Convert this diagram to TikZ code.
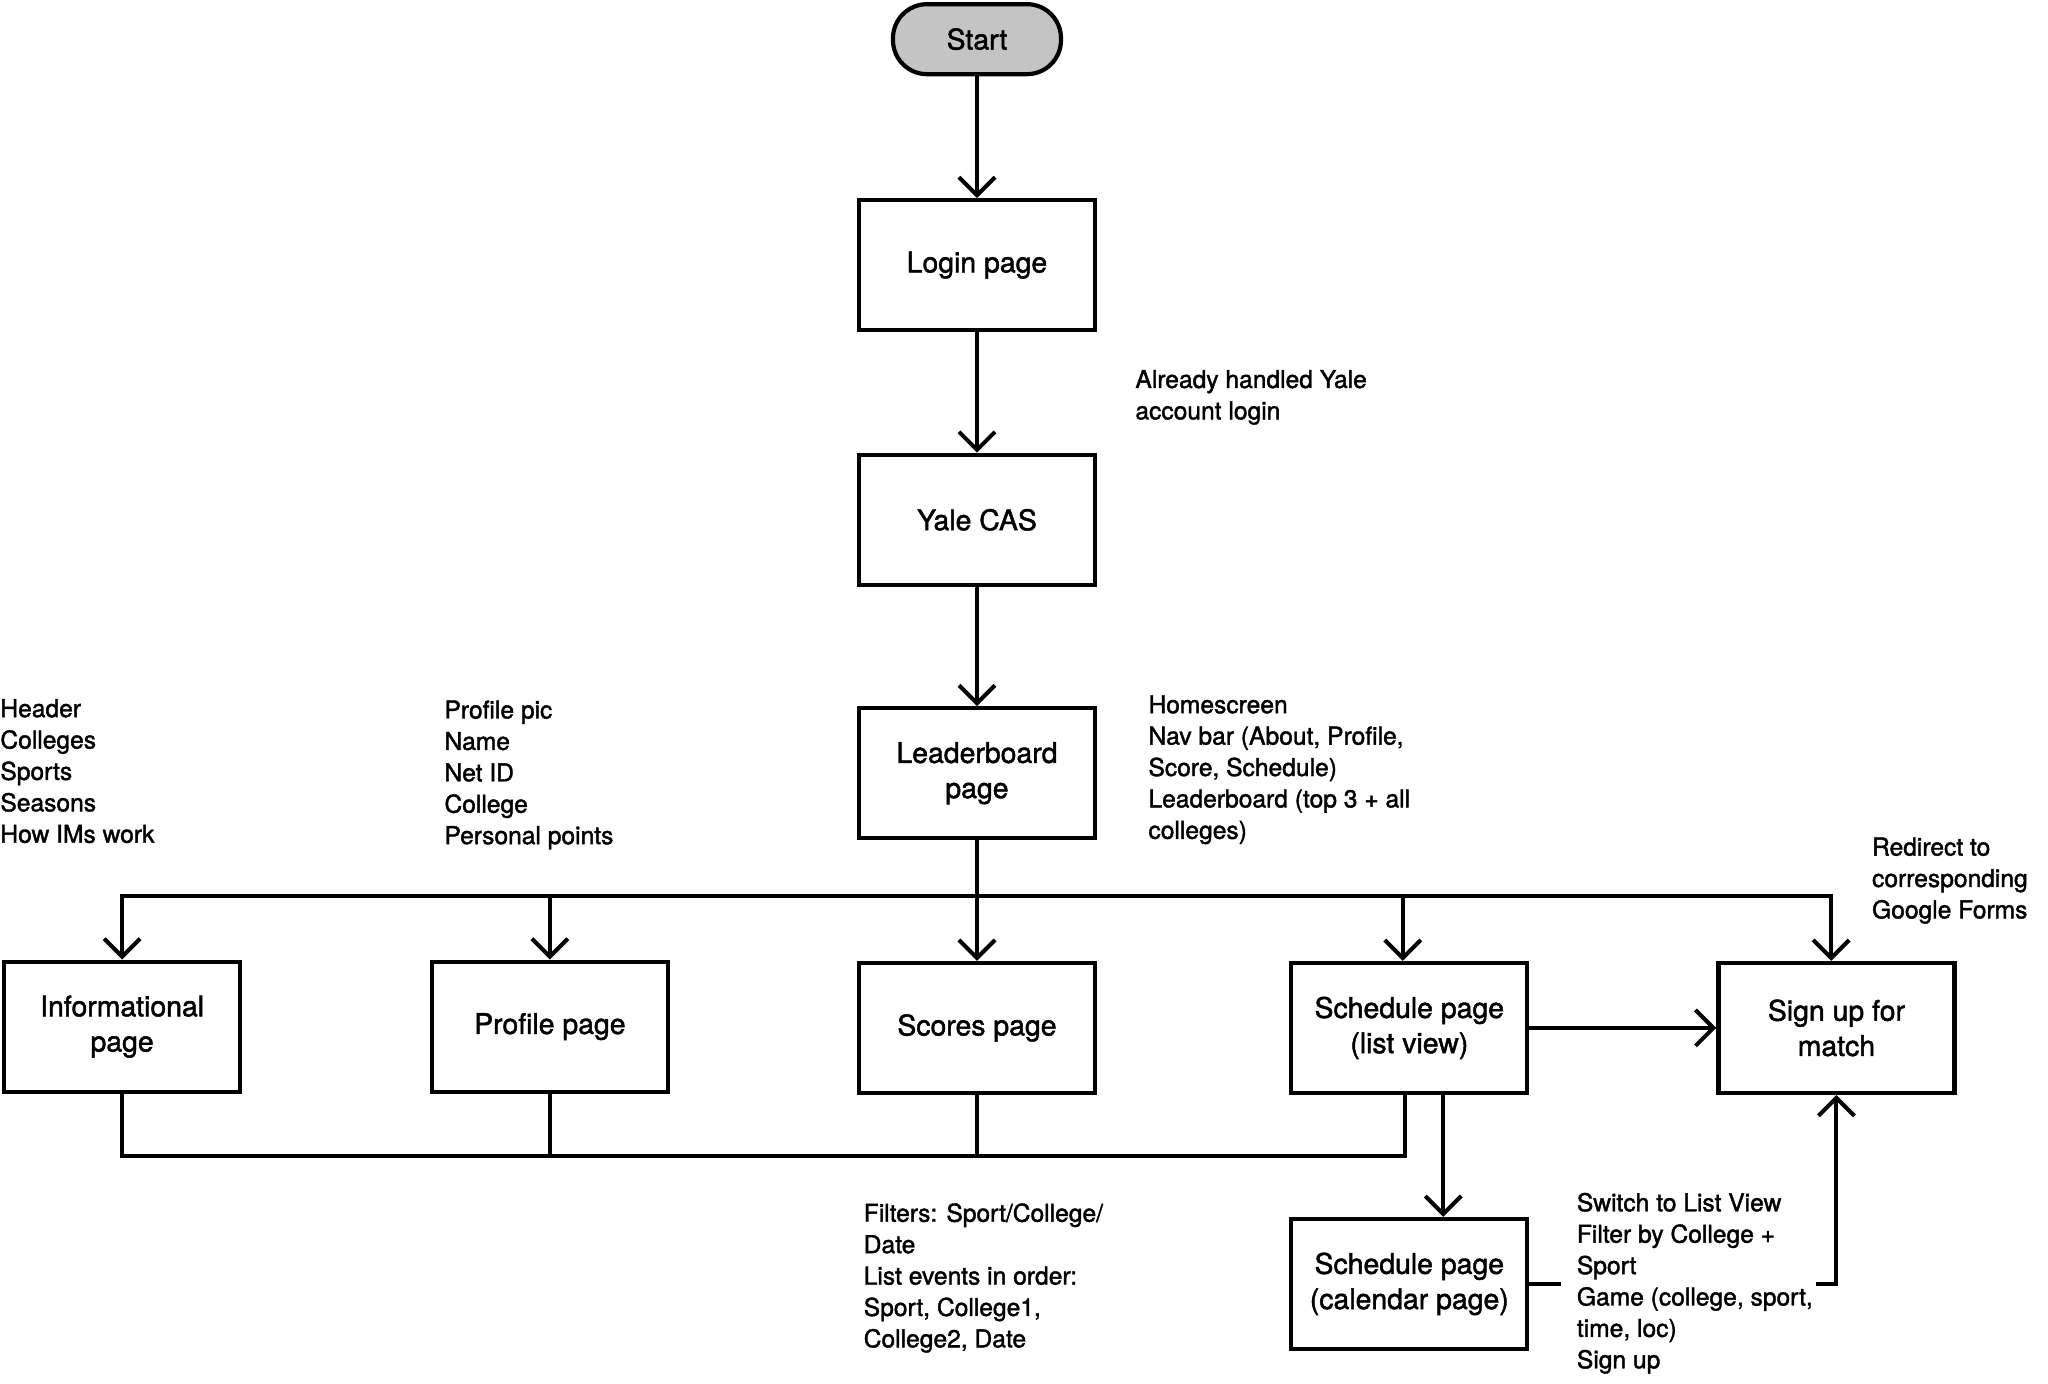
\documentclass[tikz,border=0pt]{standalone}
\usepackage{fontspec}
\setmainfont{TeX Gyre Heros}
\newfontfamily\medfont{TeX Gyre Heros}[UprightFeatures={FakeBold=1.6}]
\usetikzlibrary{arrows.meta,calc}
\definecolor{startgray}{RGB}{196,196,196}
\begin{document}
\begin{tikzpicture}[x=0.653pt,y=-0.653pt,
  box/.style={draw,line width=2.1pt,fill=white,minimum width=118pt,minimum height=65pt,align=center,font=\medfont\fontsize{14.2}{17.6}\selectfont,inner sep=2pt},
  term/.style={draw,line width=2.1pt,fill=startgray,rounded corners=17pt,minimum width=84pt,minimum height=35pt,font=\medfont\fontsize{14.2}{17.6}\selectfont},
  note/.style={anchor=north west,align=left,inner sep=0pt,font=\medfont\fontsize{12.3}{15.7}\selectfont},
  arr/.style={line width=2pt,-{Straight Barb[length=9pt,width=18pt,line width=2pt]}},
  ln/.style={line width=2pt}]
\useasboundingbox (0,0) rectangle (1568,1059);

% main column
\node[term] (start) at (748,30) {Start};
\node[box] (login) at (748,203) {Login page};
\node[box] (cas) at (748,398) {Yale CAS};
\node[box] (lead) at (748,592) {Leaderboard\\page};

% row
\node[box] (info) at (93.5,786) {Informational\\page};
\node[box] (profile) at (421,786) {Profile page};
\node[box] (scores) at (748,787) {Scores page};
\node[box] (sched) at (1079,787) {Schedule page\\(list view)};
\node[box] (signup) at (1406,787) {Sign up for\\match};
\node[box] (cal) at (1079,983) {Schedule page\\(calendar page)};

% notes
\node[note] (n1) at (869,283) {Already handled Yale\\account login};
\node[note] (n2) at (0,535) {Header\\Colleges\\Sports\\Seasons\\How IMs work};
\node[note] (n3) at (340,536) {Profile pic\\Name\\Net ID\\College\\Personal points};
\node[note] (n4) at (879,532) {Homescreen\\Nav bar (About, Profile,\\Score, Schedule)\\Leaderboard (top 3 + all\\colleges)};
\node[note] (n5) at (1433,641) {Redirect to\\corresponding\\Google Forms};
\node[note] (n6) at (661,921) {Filters: Sport/College/\\Date\\List events in order:\\Sport, College1,\\College2, Date};
\node[note] (sw) at (1207,913) {Switch to List View\\Filter by College +\\Sport\\Game (college, sport,\\time, loc)\\Sign up};

\coordinate (bus) at (748,686);
\coordinate (bot) at (748,885);

% connectors
\draw[arr] (start) -- (login);
\draw[arr] (login) -- (cas);
\draw[arr] (cas) -- (lead);
\draw[arr] (lead.south) -- (scores.north);
\draw[arr] (lead.south) |- (bus) -| (info.north);
\draw[arr] (lead.south) |- (bus) -| (profile.north);
\draw[arr] (lead.south) |- (bus) -| ($(sched.north)+(-5,0)$);
\draw[arr] (lead.south) |- (bus) -| ($(signup.north)+(-4,0)$);

\draw[ln] (info.south) |- (bot) -| ($(sched.south)+(-3,0)$);
\draw[ln] (profile.south) -- (profile.south |- bot);
\draw[ln] (scores.south) -- (scores.south |- bot);

\draw[arr] ($(sched.south)+(26,0)$) -- ($(cal.north)+(26,0)$);
\draw[arr] (sched.east) -- (signup.west);

\draw[ln] (cal.east) -- ($(cal.east -| sw.west)+(-12,0)$);
\draw[arr] ($(signup.south |- cal.east)+(-16,0)$) -- (signup.south |- cal.east) -- (signup.south);
\end{tikzpicture}
\end{document}
